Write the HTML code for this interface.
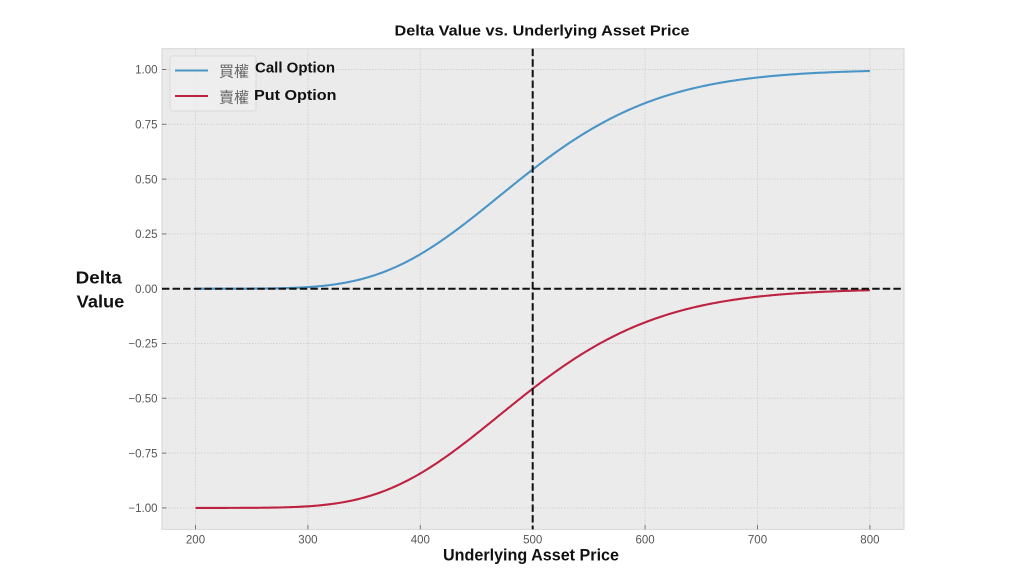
<!DOCTYPE html>
<html>
<head>
<meta charset="utf-8">
<style>
html,body{margin:0;padding:0;background:#fff;}
svg{display:block;}
text{font-family:"Liberation Sans","Noto Sans CJK TC",sans-serif;}
.tk{font-size:11.5px;fill:#555;}
.b{font-weight:bold;fill:#111;}
</style>
</head>
<body>
<svg id="s" width="1024" height="576" viewBox="0 0 1024 576" xmlns="http://www.w3.org/2000/svg">
  <rect x="0" y="0" width="1024" height="576" fill="#fff"/>
  <!-- axes background -->
  <rect x="162" y="48.7" width="742" height="480.7" fill="#ebebeb" stroke="#d6d6d6" stroke-width="1"/>
  <!-- grid -->
  <g stroke="#d2d2d2" stroke-width="1" stroke-dasharray="1.5,1.5">
    <line x1="195.5" y1="48.7" x2="195.5" y2="529.4"/>
    <line x1="307.9" y1="48.7" x2="307.9" y2="529.4"/>
    <line x1="420.3" y1="48.7" x2="420.3" y2="529.4"/>
    <line x1="532.7" y1="48.7" x2="532.7" y2="529.4"/>
    <line x1="645.1" y1="48.7" x2="645.1" y2="529.4"/>
    <line x1="757.5" y1="48.7" x2="757.5" y2="529.4"/>
    <line x1="869.9" y1="48.7" x2="869.9" y2="529.4"/>
    <line x1="162" y1="69.5" x2="904" y2="69.5"/>
    <line x1="162" y1="124.3" x2="904" y2="124.3"/>
    <line x1="162" y1="179.1" x2="904" y2="179.1"/>
    <line x1="162" y1="233.9" x2="904" y2="233.9"/>
    <line x1="162" y1="288.7" x2="904" y2="288.7"/>
    <line x1="162" y1="343.5" x2="904" y2="343.5"/>
    <line x1="162" y1="398.3" x2="904" y2="398.3"/>
    <line x1="162" y1="453.1" x2="904" y2="453.1"/>
    <line x1="162" y1="507.9" x2="904" y2="507.9"/>
  </g>
  <!-- ticks -->
  <g stroke="#777" stroke-width="1">
    <line x1="162" y1="69.5" x2="166.5" y2="69.5"/>
    <line x1="162" y1="124.3" x2="166.5" y2="124.3"/>
    <line x1="162" y1="179.1" x2="166.5" y2="179.1"/>
    <line x1="162" y1="233.9" x2="166.5" y2="233.9"/>
    <line x1="162" y1="288.7" x2="166.5" y2="288.7"/>
    <line x1="162" y1="343.5" x2="166.5" y2="343.5"/>
    <line x1="162" y1="398.3" x2="166.5" y2="398.3"/>
    <line x1="162" y1="453.1" x2="166.5" y2="453.1"/>
    <line x1="162" y1="507.9" x2="166.5" y2="507.9"/>
    <line x1="195.5" y1="529.4" x2="195.5" y2="525"/>
    <line x1="307.9" y1="529.4" x2="307.9" y2="525"/>
    <line x1="420.3" y1="529.4" x2="420.3" y2="525"/>
    <line x1="532.7" y1="529.4" x2="532.7" y2="525"/>
    <line x1="645.1" y1="529.4" x2="645.1" y2="525"/>
    <line x1="757.5" y1="529.4" x2="757.5" y2="525"/>
    <line x1="869.9" y1="529.4" x2="869.9" y2="525"/>
  </g>
  <!-- y tick labels -->
  <g class="tk" text-anchor="end">
    <text x="157.5" y="73.7">1.00</text>
    <text x="157.5" y="128.5">0.75</text>
    <text x="157.5" y="183.3">0.50</text>
    <text x="157.5" y="238.1">0.25</text>
    <text x="157.5" y="292.9">0.00</text>
    <text x="157.5" y="347.7">−0.25</text>
    <text x="157.5" y="402.5">−0.50</text>
    <text x="157.5" y="457.3">−0.75</text>
    <text x="157.5" y="512.1">−1.00</text>
  </g>
  <!-- x tick labels -->
  <g class="tk" text-anchor="middle">
    <text x="195.5" y="543.5">200</text>
    <text x="307.9" y="543.5">300</text>
    <text x="420.3" y="543.5">400</text>
    <text x="532.7" y="543.5">500</text>
    <text x="645.1" y="543.5">600</text>
    <text x="757.5" y="543.5">700</text>
    <text x="869.9" y="543.5">800</text>
  </g>
  <!-- curves -->
  <path id="call" d="" fill="none" stroke="#4a95c6" stroke-width="2.1" stroke-linejoin="round"/>
  <path id="put" d="" fill="none" stroke="#bd2340" stroke-width="2.1" stroke-linejoin="round"/>
  <!-- dashed reference lines -->
  <line x1="162" y1="288.7" x2="904" y2="288.7" stroke="#111" stroke-width="2" stroke-dasharray="7.4,3.2"/>
  <line x1="532.7" y1="48.7" x2="532.7" y2="529.4" stroke="#111" stroke-width="2" stroke-dasharray="7.4,3.2"/>
  <!-- legend -->
  <rect x="170" y="56" width="86" height="55" rx="2.5" fill="#eeeeee" stroke="#dadada" stroke-width="1" fill-opacity="0.85"/>
  <line x1="175" y1="70.5" x2="208" y2="70.5" stroke="#4a95c6" stroke-width="2.1"/>
  <line x1="175" y1="96" x2="208" y2="96" stroke="#bd2340" stroke-width="2.1"/>
  <text x="219" y="76.5" style="font-family:'Noto Sans CJK TC','WenQuanYi Zen Hei',sans-serif;font-size:15px;fill:#666;">買權</text>
  <text x="219" y="102.5" style="font-family:'Noto Sans CJK TC','WenQuanYi Zen Hei',sans-serif;font-size:15px;fill:#666;">賣權</text>
  <text class="b" x="255" y="72.5" font-size="14.5" textLength="80" lengthAdjust="spacingAndGlyphs">Call Option</text>
  <text class="b" x="254" y="100" font-size="14.5" textLength="82.5" lengthAdjust="spacingAndGlyphs">Put Option</text>
  <!-- title -->
  <text class="b" x="394.5" y="35.7" font-size="15" textLength="295" lengthAdjust="spacingAndGlyphs">Delta Value vs. Underlying Asset Price</text>
  <!-- axis labels -->
  <text class="b" x="443" y="560.5" font-size="17" textLength="176" lengthAdjust="spacingAndGlyphs">Underlying Asset Price</text>
  <text class="b" x="75.7" y="283.3" font-size="17.5" textLength="46" lengthAdjust="spacingAndGlyphs">Delta</text>
  <text class="b" x="76.7" y="307.3" font-size="17.5" textLength="47.6" lengthAdjust="spacingAndGlyphs">Value</text>
</svg>
<script>
(function(){
  function erf(x){
    var s = x<0?-1:1; x=Math.abs(x);
    var t=1/(1+0.3275911*x);
    var y=1-(((((1.061405429*t-1.453152027)*t)+1.421413741)*t-0.284496736)*t+0.254829592)*t*Math.exp(-x*x);
    return s*y;
  }
  function N(x){return 0.5*(1+erf(x/Math.SQRT2));}
  function X(v){return 195.5+(v-200)*1.124;}
  function Y(d){return 288.7-219.2*d;}
  var c="",p="";
  for(var i=0;i<=300;i++){
    var S=200+i*2;
    var d1=Math.log(S/500)/0.2+0.11;
    var dc=N(d1), dp=dc-1;
    var x=X(S).toFixed(2);
    c+=(i?"L":"M")+x+","+Y(dc).toFixed(2);
    p+=(i?"L":"M")+x+","+Y(dp).toFixed(2);
  }
  document.getElementById("call").setAttribute("d",c);
  document.getElementById("put").setAttribute("d",p);
})();
</script>
</body>
</html>
